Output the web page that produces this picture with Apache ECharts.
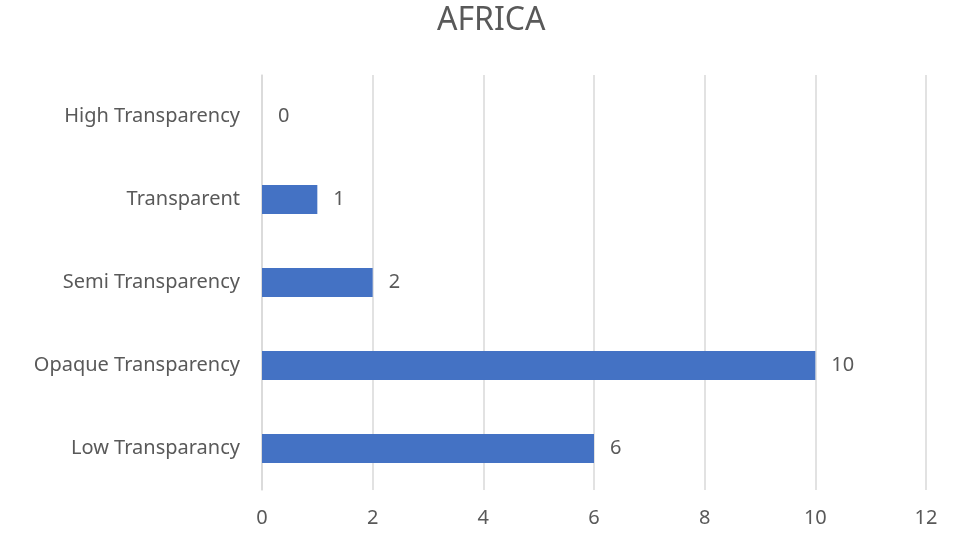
<!DOCTYPE html>
<html lang="en">
<head>
    <meta charset="UTF-8">
    <title>AFRICA</title>
    <script src="https://cdn.jsdelivr.net/npm/echarts@6/dist/echarts.min.js"></script>
    <style>
        html, body { margin: 0; padding: 0; background: #fff; }
        #main { width: 961px; height: 533px; }
    </style>
</head>
<body>
<div id="main"></div>
<script type="text/javascript">
    // categories listed bottom to top, as the category axis draws them
    var categories = ['Low Transparancy', 'Opaque Transparency', 'Semi Transparency', 'Transparent', 'High Transparency'];
    var values = [6, 10, 2, 1, 0];
    var axisMax = 12;
    var axisStep = 2;

    var textColor = '#595959';
    var gridColor = '#d9d9d9';
    var fontName = 'Noto Sans';

    var myChart = echarts.init(document.getElementById('main'));
    var option = {
        animation: false,
        title: {
            text: 'AFRICA',
            left: 432,
            top: 0,
            textStyle: { color: textColor, fontSize: 32, fontWeight: 'normal', fontFamily: fontName }
        },
        grid: { left: 262, right: 35, top: 75, bottom: 43 },
        xAxis: {
            type: 'value',
            min: 0,
            max: axisMax,
            interval: axisStep,
            axisLine: { show: false },
            axisTick: { show: false },
            splitLine: { lineStyle: { color: gridColor, width: 1.5 } },
            axisLabel: { color: textColor, fontSize: 20, fontFamily: fontName, margin: 18 }
        },
        yAxis: {
            type: 'category',
            data: categories,
            axisLine: { lineStyle: { color: gridColor, width: 1.5 } },
            axisTick: { show: false },
            axisLabel: { color: textColor, fontSize: 20, fontFamily: fontName, margin: 22 }
        },
        series: [{
            type: 'bar',
            data: values,
            barWidth: 29,
            itemStyle: { color: '#4472C4' },
            label: {
                show: true,
                position: 'right',
                distance: 16,
                color: textColor,
                fontSize: 20,
                fontFamily: fontName
            }
        }]
    };
    myChart.setOption(option);
</script>
</body>
</html>
